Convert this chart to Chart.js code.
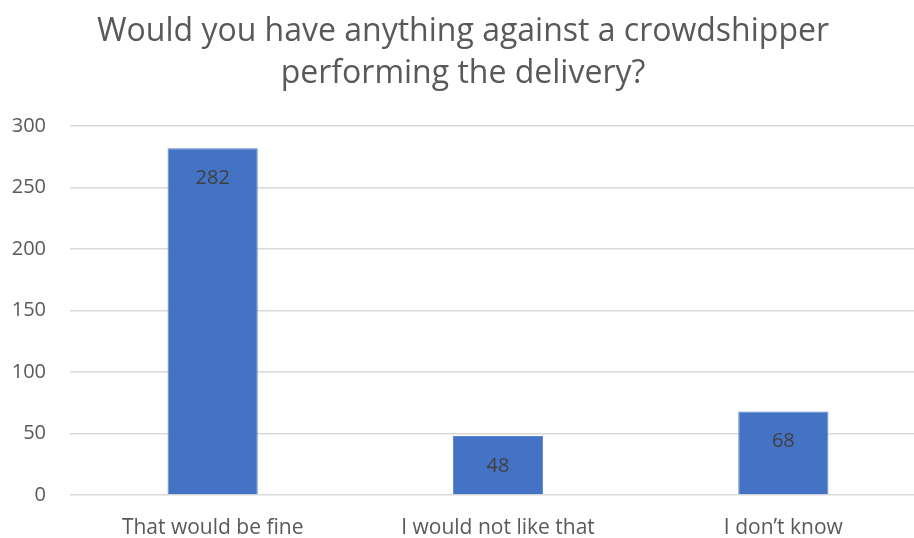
<!DOCTYPE html>
<html>
<head>
<meta charset="utf-8">
<script src="https://cdn.jsdelivr.net/npm/chart.js@4/dist/chart.umd.min.js"></script>
<style>
  html, body { margin: 0; padding: 0; background: #ffffff; overflow: hidden; }
  #wrap { width: 926px; height: 538px; position: relative; }
</style>
</head>
<body>
<div id="wrap"><canvas id="chart"></canvas></div>
<script>
const titleLines = ["Would you have anything against a crowdshipper", "performing the delivery?"];
const categories = ["That would be fine", "I would not like that", "I don\u2019t know"];
const responses = [282, 48, 68];
const yTicks = [0, 50, 100, 150, 200, 250, 300];

const FONT = "'Open Sans', 'Liberation Sans', sans-serif";

// Writes each bar's value just inside its top end
const valueLabels = {
  id: 'valueLabels',
  afterDatasetsDraw(chart) {
    const ctx = chart.ctx;
    const meta = chart.getDatasetMeta(0);
    ctx.save();
    ctx.font = "20px " + FONT;
    ctx.fillStyle = '#404040';
    ctx.textAlign = 'center';
    ctx.textBaseline = 'middle';
    meta.data.forEach((bar, i) => {
      ctx.fillText(String(responses[i]), bar.x, bar.y + 30);
    });
    ctx.restore();
  }
};

new Chart(document.getElementById('chart'), {
  type: 'bar',
  data: {
    labels: categories,
    datasets: [{
      data: responses,
      backgroundColor: '#4472C4',
      borderColor: '#5b84cc',
      borderWidth: 1,
      categoryPercentage: 1,
      barPercentage: 0.316
    }]
  },
  options: {
    responsive: true,
    maintainAspectRatio: false,
    animation: false,
    layout: { padding: { left: 0, right: 0, top: 0, bottom: 0 } },
    plugins: {
      legend: { display: false },
      tooltip: { enabled: false },
      title: {
        display: true,
        text: titleLines,
        color: '#595959',
        font: { family: FONT, size: 32, weight: 'normal', lineHeight: 1.3 },
        padding: { top: 11, bottom: 32 }
      }
    },
    scales: {
      x: {
        grid: { display: false, drawTicks: false },
        border: { display: false },
        ticks: {
          color: '#595959',
          font: { family: FONT, size: 21 },
          padding: 20,
          maxRotation: 0
        },
        afterFit(scale) { scale.height = 43; }
      },
      y: {
        min: 0,
        max: 300,
        afterBuildTicks(scale) { scale.ticks = yTicks.map(v => ({ value: v })); },
        grid: { color: '#d9d9d9', lineWidth: 1.5, drawTicks: false },
        border: { display: false },
        ticks: {
          color: '#595959',
          font: { family: FONT, size: 20 },
          padding: 24
        },
        afterFit(scale) { scale.width = 70; }
      }
    }
  },
  plugins: [valueLabels]
});
</script>
</body>
</html>
